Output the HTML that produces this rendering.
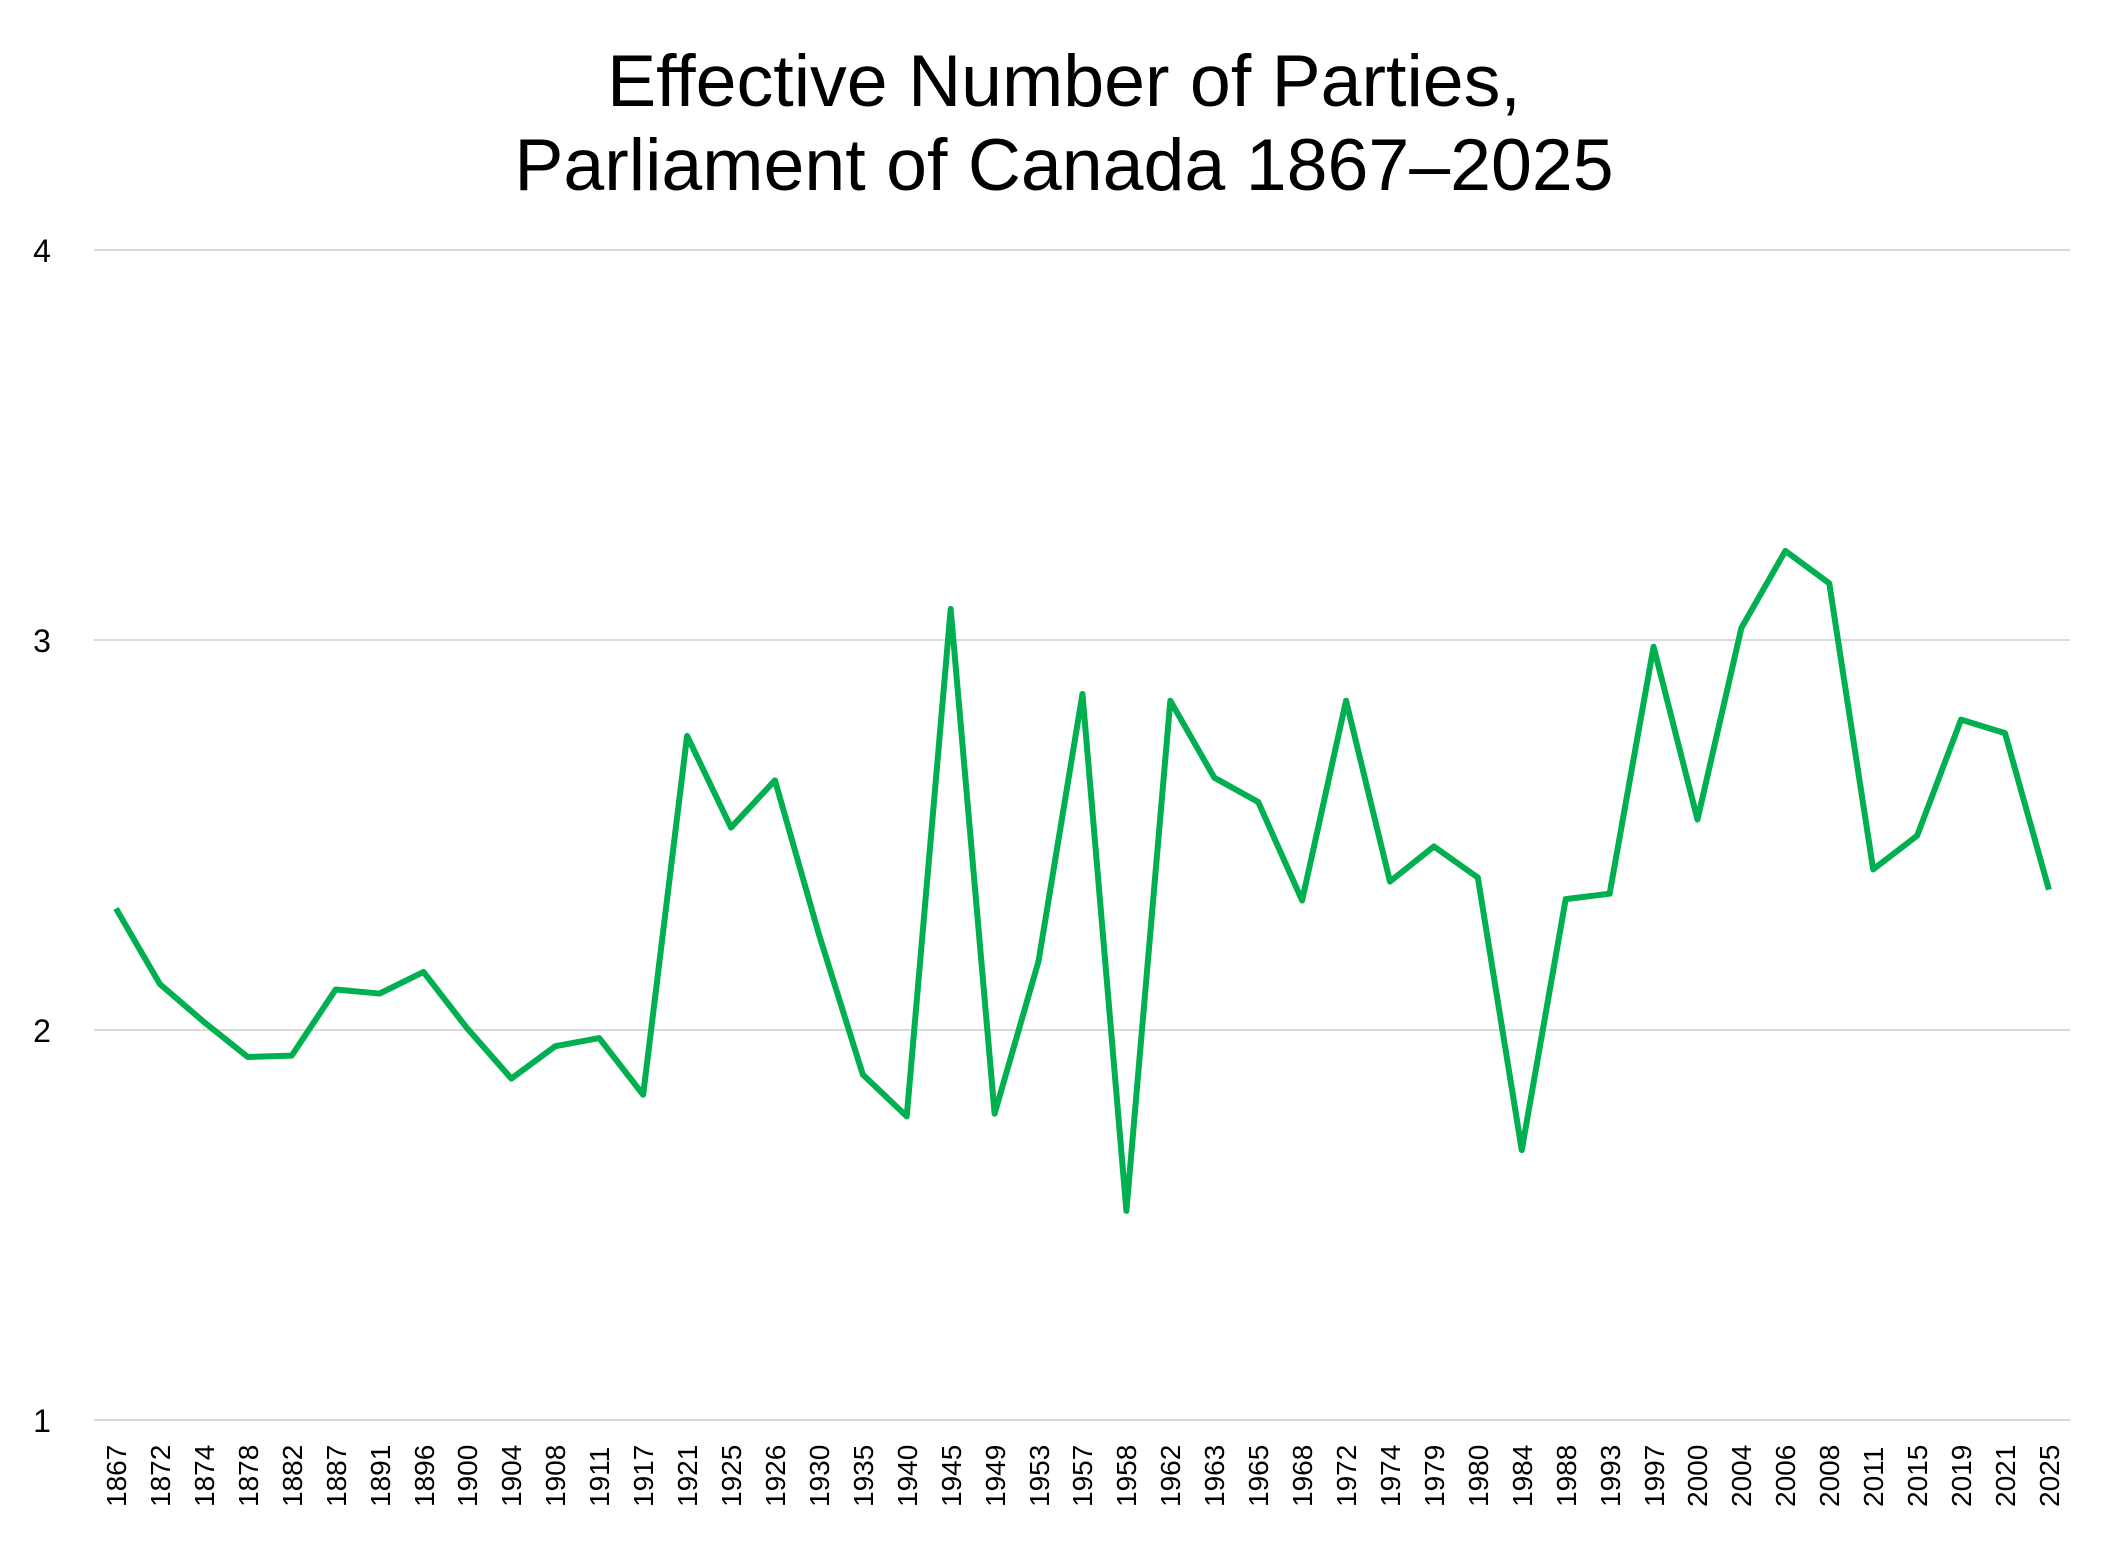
<!DOCTYPE html>
<html><head><meta charset="utf-8"><style>
html,body{margin:0;padding:0;background:#fff;}
svg{display:block;font-family:"Liberation Sans",Arial,sans-serif;}
</style></head><body>
<svg width="2117" height="1544" viewBox="0 0 2117 1544" xmlns="http://www.w3.org/2000/svg">
<rect width="2117" height="1544" fill="#fff"/>
<text x="1064" y="106" font-size="73.5" text-anchor="middle" fill="#000">Effective Number of Parties,</text>
<text x="1064" y="190" font-size="73.5" text-anchor="middle" fill="#000">Parliament of Canada 1867–2025</text>
<g stroke="#d9d9d9" stroke-width="2">
<line x1="94" y1="250" x2="2070" y2="250"/>
<line x1="94" y1="640" x2="2070" y2="640"/>
<line x1="94" y1="1030" x2="2070" y2="1030"/>
<line x1="94" y1="1420" x2="2070" y2="1420"/>
</g>
<g font-size="32" text-anchor="middle" fill="#000">
<text x="42" y="262">4</text>
<text x="42" y="652">3</text>
<text x="42" y="1042">2</text>
<text x="42" y="1432">1</text>
</g>
<polyline fill="none" stroke="#00b050" stroke-width="6" stroke-linejoin="round" vector-effect="non-scaling-stroke"
transform="matrix(43.93,0,0,1.3495,116,0.34)"
points="0,673 1,729 2,757 3,783 4,782 5,733 6,736 7,720 8,762 9,799 10,775 11,769 12,811 13,545 14,613 15,578 16,692 17,796 18,827 19,451 20,825 21,712 22,514 23,897 24,519 25,576 26,594 27,667 28,519 29,653 30,627 31,650 32,852 33,666 34,662 35,479 36,607 37,465 38,408 39,432 40,644 41,619 42,533 43,543 44,659"/>
<g font-size="28" fill="#000">
<text transform="translate(126,1507) rotate(-90)">1867</text>
<text transform="translate(170,1507) rotate(-90)">1872</text>
<text transform="translate(214,1507) rotate(-90)">1874</text>
<text transform="translate(258,1507) rotate(-90)">1878</text>
<text transform="translate(302,1507) rotate(-90)">1882</text>
<text transform="translate(346,1507) rotate(-90)">1887</text>
<text transform="translate(390,1507) rotate(-90)">1891</text>
<text transform="translate(434,1507) rotate(-90)">1896</text>
<text transform="translate(477,1507) rotate(-90)">1900</text>
<text transform="translate(521,1507) rotate(-90)">1904</text>
<text transform="translate(565,1507) rotate(-90)">1908</text>
<text transform="translate(609,1507) rotate(-90)">1911</text>
<text transform="translate(653,1507) rotate(-90)">1917</text>
<text transform="translate(697,1507) rotate(-90)">1921</text>
<text transform="translate(741,1507) rotate(-90)">1925</text>
<text transform="translate(785,1507) rotate(-90)">1926</text>
<text transform="translate(829,1507) rotate(-90)">1930</text>
<text transform="translate(873,1507) rotate(-90)">1935</text>
<text transform="translate(917,1507) rotate(-90)">1940</text>
<text transform="translate(961,1507) rotate(-90)">1945</text>
<text transform="translate(1005,1507) rotate(-90)">1949</text>
<text transform="translate(1049,1507) rotate(-90)">1953</text>
<text transform="translate(1092,1507) rotate(-90)">1957</text>
<text transform="translate(1136,1507) rotate(-90)">1958</text>
<text transform="translate(1180,1507) rotate(-90)">1962</text>
<text transform="translate(1224,1507) rotate(-90)">1963</text>
<text transform="translate(1268,1507) rotate(-90)">1965</text>
<text transform="translate(1312,1507) rotate(-90)">1968</text>
<text transform="translate(1356,1507) rotate(-90)">1972</text>
<text transform="translate(1400,1507) rotate(-90)">1974</text>
<text transform="translate(1444,1507) rotate(-90)">1979</text>
<text transform="translate(1488,1507) rotate(-90)">1980</text>
<text transform="translate(1532,1507) rotate(-90)">1984</text>
<text transform="translate(1576,1507) rotate(-90)">1988</text>
<text transform="translate(1620,1507) rotate(-90)">1993</text>
<text transform="translate(1664,1507) rotate(-90)">1997</text>
<text transform="translate(1707,1507) rotate(-90)">2000</text>
<text transform="translate(1751,1507) rotate(-90)">2004</text>
<text transform="translate(1795,1507) rotate(-90)">2006</text>
<text transform="translate(1839,1507) rotate(-90)">2008</text>
<text transform="translate(1883,1507) rotate(-90)">2011</text>
<text transform="translate(1927,1507) rotate(-90)">2015</text>
<text transform="translate(1971,1507) rotate(-90)">2019</text>
<text transform="translate(2015,1507) rotate(-90)">2021</text>
<text transform="translate(2059,1507) rotate(-90)">2025</text>
</g>
</svg>
</body></html>
